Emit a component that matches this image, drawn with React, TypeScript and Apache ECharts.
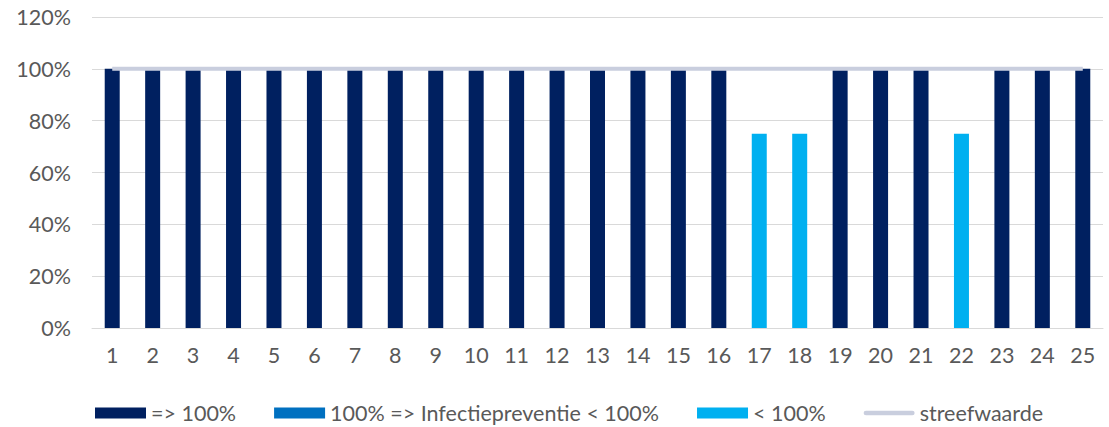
import React, { useEffect, useRef } from "react";
import * as echarts from "echarts";

// Participant numbers on the x-axis
const categories: string[] = [
  "1", "2", "3", "4", "5", "6", "7", "8", "9", "10", "11", "12", "13",
  "14", "15", "16", "17", "18", "19", "20", "21", "22", "23", "24", "25",
];

// Scores (%) per participant, split by outcome group; null = not in this group
const meetsTarget: (number | null)[] = [
  100, 100, 100, 100, 100, 100, 100, 100, 100, 100, 100, 100, 100,
  100, 100, 100, null, null, 100, 100, 100, null, 100, 100, 100,
];
const infectionPreventionBelow: (number | null)[] = [
  null, null, null, null, null, null, null, null, null, null, null, null, null,
  null, null, null, null, null, null, null, null, null, null, null, null,
];
const belowTarget: (number | null)[] = [
  null, null, null, null, null, null, null, null, null, null, null, null, null,
  null, null, null, 75, 75, null, null, null, 75, null, null, null,
];
// Target value line
const targetValue: number[] = categories.map(() => 100);

const yTicks = { min: 0, max: 120, interval: 20 };

const FONT = "Lato";
const TEXT = "#595959";
const TARGET_COLOR = "#c9cede";
const FONT_SIZE = 21.5;

export default function App() {
  const ref = useRef<HTMLDivElement>(null);

  useEffect(() => {
    if (!ref.current) return;
    const chart = echarts.init(ref.current, undefined, { renderer: "svg" });
    const barBase = {
      type: "bar" as const,
      stack: "score",
      barWidth: 15,
    };
    chart.setOption({
      animation: false,
      textStyle: { fontFamily: FONT },
      grid: { left: 92, right: 6, top: 17, bottom: 99, containLabel: false },
      legend: {
        left: 95,
        top: 400,
        padding: 0,
        itemWidth: 51,
        itemHeight: 11,
        itemGap: 38,
        textStyle: { color: TEXT, fontSize: FONT_SIZE, fontFamily: FONT, lineHeight: 26 },
        data: [
          { name: "=> 100%", icon: "rect" },
          { name: "100% => Infectiepreventie < 100%", icon: "rect" },
          { name: "< 100%", icon: "rect" },
          {
            name: "streefwaarde",
            icon: "path://M2.5,0 L51.5,0 A2.5,2.5 0 0 1 51.5,5 L2.5,5 A2.5,2.5 0 0 1 2.5,0 Z",
            itemStyle: { color: TARGET_COLOR },
          },
        ],
      },
      xAxis: {
        type: "category",
        data: categories,
        axisLine: { show: true, lineStyle: { color: "#d9d9d9", width: 1 } },
        axisTick: { show: false },
        axisLabel: { color: TEXT, fontSize: FONT_SIZE, margin: 16 },
      },
      yAxis: {
        type: "value",
        ...yTicks,
        axisLine: { show: false },
        axisTick: { show: false },
        axisLabel: { color: TEXT, fontSize: FONT_SIZE, margin: 21, formatter: "{value}%" },
        splitLine: { lineStyle: { color: "#d9d9d9", width: 1 } },
      },
      series: [
        { ...barBase, name: "=> 100%", data: meetsTarget, itemStyle: { color: "#002060" } },
        {
          ...barBase,
          name: "100% => Infectiepreventie < 100%",
          data: infectionPreventionBelow,
          itemStyle: { color: "#0070c0" },
        },
        { ...barBase, name: "< 100%", data: belowTarget, itemStyle: { color: "#00b0f0" } },
        {
          type: "line",
          name: "streefwaarde",
          data: targetValue,
          symbol: "none",
          z: 5,
          lineStyle: { color: TARGET_COLOR, width: 4 },
          itemStyle: { color: TARGET_COLOR },
        },
      ],
    });
    return () => chart.dispose();
  }, []);

  return (
    <div
      ref={ref}
      style={{ position: "absolute", left: 0, top: 0, width: 1109, height: 427 }}
    />
  );
}
